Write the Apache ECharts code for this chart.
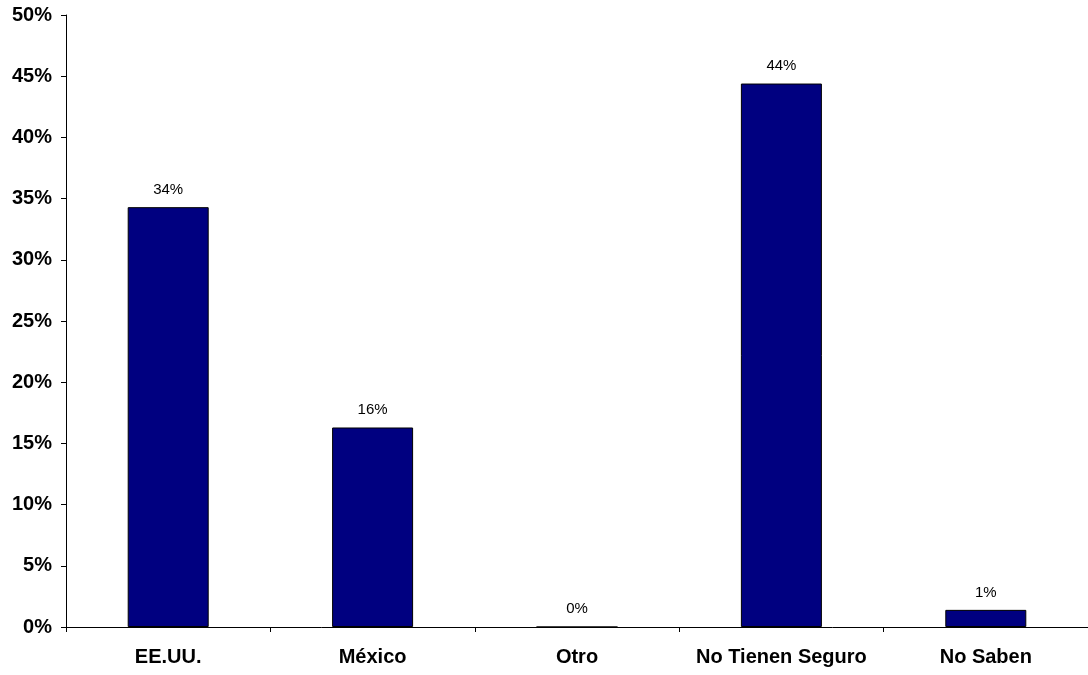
<!DOCTYPE html>
<html>
<head>
<meta charset="utf-8">
<script src="https://cdn.jsdelivr.net/npm/echarts@6/dist/echarts.min.js"></script>
<style>
  html, body { margin: 0; padding: 0; background: #fff; }
  #chart { width: 1088px; height: 675px; }
</style>
</head>
<body>
<div id="chart"></div>
<script>
// Tipo de seguro médico (porcentaje de encuestados)
const categories = ['EE.UU.', 'México', 'Otro', 'No Tienen Seguro', 'No Saben'];
const shares = [34.3, 16.3, 0, 44.4, 1.4];

const chart = echarts.init(document.getElementById('chart'));
const font = '"Liberation Sans", Arial, sans-serif';

chart.setOption({
  animation: false,
  grid: { left: 66, right: 0, top: 15, bottom: 48 },
  xAxis: {
    type: 'category',
    data: categories,
    boundaryGap: true,
    axisLine: { lineStyle: { color: '#000', width: 1 } },
    axisTick: { show: true, interval: 0, length: 5, alignWithLabel: false, lineStyle: { color: '#000' } },
    axisLabel: {
      interval: 0, hideOverlap: false,
      color: '#000', fontFamily: font, fontSize: 20, fontWeight: 'bold', margin: 20
    }
  },
  yAxis: {
    type: 'value',
    min: 0,
    max: 50,
    interval: 5,
    splitLine: { show: false },
    axisLine: { show: true, lineStyle: { color: '#000', width: 1 } },
    axisTick: { show: true, length: 5, lineStyle: { color: '#000' } },
    axisLabel: {
      color: '#000', fontFamily: font, fontSize: 20, fontWeight: 'bold', margin: 14,
      formatter: v => v + '%'
    }
  },
  series: [{
    type: 'bar',
    data: shares,
    barWidth: 81,
    itemStyle: { color: '#000080', borderColor: '#000', borderWidth: 1 },
    label: {
      show: true,
      position: 'top',
      distance: 10,
      color: '#000',
      fontFamily: font,
      fontSize: 15,
      formatter: p => Math.round(p.value) + '%'
    }
  }]
});
</script>
</body>
</html>
